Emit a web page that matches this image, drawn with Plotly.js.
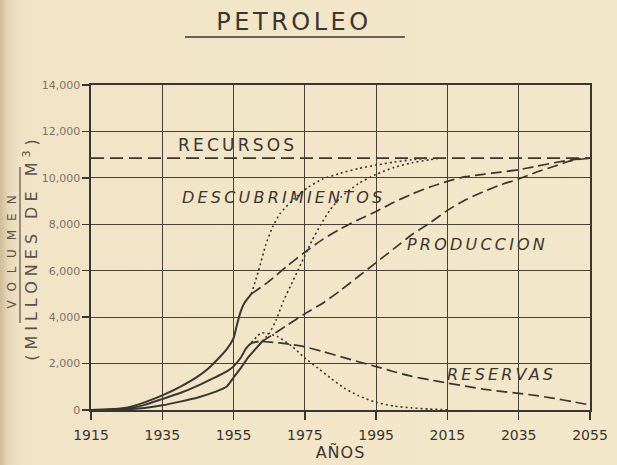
<!DOCTYPE html>
<html>
<head>
<meta charset="utf-8">
<script src="https://cdn.plot.ly/plotly-3.0.1.min.js"></script>
<style>
  html, body { margin: 0; padding: 0; }
  body { width: 617px; height: 465px; overflow: hidden;
    background: linear-gradient(to right, #cdbb98 0px, #e6d7b7 8px, #f1e4c6 22px, #f3e7ca 100%); }
  #chart { width: 617px; height: 465px; }
  .gtitle { letter-spacing: 3.5px; }
  .annotation-text { letter-spacing: 3.2px; }
  .ytitle { letter-spacing: 5px; }
  .xtitle { letter-spacing: 1px; }
</style>
</head>
<body>
<div id="chart"></div>
<script>
// ---- data ----
const xTicks = [1915, 1935, 1955, 1975, 1995, 2015, 2035, 2055];
const yTicks = [0, 2000, 4000, 6000, 8000, 10000, 12000, 14000];
const yTickText = ['0', '2,000', '4,000', '6,000', '8,000', '10,000', '12,000', '14,000'];

const recursosYears = [1915, 2055];
const recursosValues = [10850, 10850];

// historical (solid)
const descHistYears = [1915, 1920, 1925, 1930, 1935, 1940, 1945, 1948, 1950, 1953, 1955, 1956, 1957, 1958, 1960];
const descHistValues = [0, 30, 100, 330, 630, 1000, 1450, 1800, 2100, 2600, 3100, 3700, 4250, 4600, 5000];
const resHistYears = [1915, 1920, 1925, 1930, 1935, 1940, 1945, 1950, 1953, 1955, 1957, 1958.5, 1960, 1962];
const resHistValues = [0, 15, 50, 220, 470, 730, 1050, 1420, 1650, 1880, 2250, 2650, 2880, 2950];
const prodHistYears = [1915, 1920, 1925, 1930, 1935, 1940, 1945, 1950, 1953, 1955, 1957, 1959, 1961, 1963];
const prodHistValues = [0, 10, 30, 90, 200, 360, 540, 790, 1000, 1400, 1800, 2250, 2600, 2950];

// slow projection (dashed)
const descSlowYears = [1960, 1965, 1970, 1975, 1980, 1985, 1990, 1995, 2000, 2005, 2010, 2015, 2020, 2025, 2030, 2035, 2040, 2045, 2050, 2055];
const descSlowValues = [5000, 5550, 6200, 6800, 7350, 7800, 8200, 8550, 8950, 9300, 9600, 9850, 10050, 10150, 10250, 10350, 10500, 10650, 10780, 10850];
const prodSlowYears = [1963, 1965, 1970, 1975, 1980, 1985, 1990, 1995, 2000, 2005, 2010, 2015, 2020, 2025, 2030, 2035, 2040, 2045, 2050, 2055];
const prodSlowValues = [2950, 3150, 3650, 4150, 4600, 5150, 5750, 6350, 6950, 7550, 8050, 8600, 9050, 9400, 9700, 9950, 10250, 10500, 10750, 10850];
const resSlowYears = [1963, 1969, 1975, 1980, 1985, 1990, 1995, 2000, 2005, 2010, 2015, 2020, 2025, 2030, 2035, 2040, 2045, 2050, 2055];
const resSlowValues = [2950, 2870, 2720, 2520, 2300, 2080, 1870, 1650, 1450, 1300, 1160, 1030, 900, 800, 720, 620, 500, 360, 220];

// fast projection (dotted)
const descFastYears = [1960, 1962, 1964, 1966, 1968, 1972, 1976, 1980, 1985, 1990, 1995, 2000, 2005, 2010];
const descFastValues = [5000, 6000, 7100, 7900, 8450, 9100, 9600, 9950, 10200, 10400, 10550, 10680, 10780, 10850];
const prodFastYears = [1963, 1965, 1967, 1969, 1971, 1973, 1975, 1977, 1979.5, 1982, 1985, 1990, 1995, 2000, 2005, 2010, 2013];
const prodFastValues = [2950, 3300, 3900, 4700, 5350, 6000, 6650, 7300, 8000, 8600, 9150, 9750, 10150, 10450, 10650, 10780, 10850];
const resFastYears = [1960, 1962.8, 1965, 1967.4, 1971.5, 1975, 1978.6, 1982, 1986, 1990, 1995, 2000, 2005, 2010, 2015];
const resFastValues = [2900, 3320, 3280, 3160, 2730, 2240, 1810, 1400, 950, 620, 330, 170, 90, 40, 10];

const labels = ['RECURSOS', 'DESCUBRIMIENTOS', 'PRODUCCION', 'RESERVAS'];

// ---- styling ----
const ink = '#3a3530';
const font = 'DejaVu Sans, sans-serif';

function tr(x, y, dash, width, name) {
  return { x: x, y: y, type: 'scatter', mode: 'lines', name: name,
    line: { color: ink, width: width, dash: dash, shape: 'spline', smoothing: 0.6 },
    hoverinfo: 'skip' };
}

const traces = [
  tr(recursosYears, recursosValues, '13px,6px', 1.6, 'Recursos'),
  tr(descHistYears, descHistValues, 'solid', 2, 'Descubrimientos'),
  tr(resHistYears, resHistValues, 'solid', 2, 'Reservas'),
  tr(prodHistYears, prodHistValues, 'solid', 2, 'Producción'),
  tr(descSlowYears, descSlowValues, '11px,5px', 1.7, 'Descubrimientos (lento)'),
  tr(prodSlowYears, prodSlowValues, '11px,5px', 1.7, 'Producción (lento)'),
  tr(resSlowYears, resSlowValues, '11px,5px', 1.7, 'Reservas (lento)'),
  tr(descFastYears, descFastValues, '2px,3px', 1.6, 'Descubrimientos (rápido)'),
  tr(prodFastYears, prodFastValues, '2px,3px', 1.6, 'Producción (rápido)'),
  tr(resFastYears, resFastValues, '2px,3px', 1.6, 'Reservas (rápido)')
];

const layout = {
  width: 617, height: 465,
  margin: { l: 91, r: 27, t: 85, b: 55, pad: 0 },
  paper_bgcolor: 'rgba(0,0,0,0)',
  plot_bgcolor: 'rgba(0,0,0,0)',
  showlegend: false,
  title: { text: 'PETROLEO', xref: 'container', x: 294 / 617, xanchor: 'center',
    yref: 'container', y: 1 - 22 / 465, yanchor: 'middle',
    font: { family: font, size: 24, color: ink } },
  xaxis: {
    range: [1915, 2055], tickvals: xTicks, ticktext: xTicks.map(String),
    ticks: 'outside', ticklen: 8, tickwidth: 1.3, tickcolor: ink, ticklabelstandoff: 4,
    showgrid: true, gridcolor: '#48423b', gridwidth: 1.2,
    showline: true, linecolor: ink, linewidth: 1.6, mirror: true, zeroline: false,
    tickfont: { family: font, size: 14, color: ink },
    title: { text: 'AÑOS', font: { family: font, size: 16, color: ink }, standoff: 0 }
  },
  yaxis: {
    range: [0, 14000], tickvals: yTicks, ticktext: yTickText,
    ticks: 'outside', ticklen: 7, tickwidth: 1.3, tickcolor: ink,
    showgrid: true, gridcolor: '#48423b', gridwidth: 1.2,
    showline: true, linecolor: ink, linewidth: 1.6, mirror: true, zeroline: false,
    tickfont: { family: font, size: 11, color: '#7d7366' },
    title: { text: '<span style="font-size:12px;letter-spacing:9px">VOLUMEN</span><br>(MILLONES DE M<sup>3</sup>)',
      font: { family: font, size: 16, color: '#5a5249' }, standoff: 0 }
  },
  shapes: [
    { type: 'line', xref: 'paper', yref: 'paper', x0: 0.1884, x1: 0.629, y0: 1.1477, y1: 1.1477,
      line: { color: ink, width: 1.6 } },
    { type: 'line', xref: 'paper', yref: 'paper', x0: -0.1423, x1: -0.1423, y0: 0.268, y1: 0.748,
      line: { color: '#5a5249', width: 1.2 } }
  ],
  annotations: [
    { x: 1956.2, y: 11415, text: labels[0], showarrow: false,
      font: { family: font, size: 17, color: ink } },
    { x: 1969.1, y: 9175, text: labels[1], showarrow: false,
      font: { family: font, size: 16, color: ink, style: 'italic' } },
    { x: 2023.3, y: 7108, text: labels[2], showarrow: false,
      font: { family: font, size: 16, color: ink, style: 'italic' } },
    { x: 2030.3, y: 1508, text: labels[3], showarrow: false,
      font: { family: font, size: 16, color: ink, style: 'italic' } }
  ]
};

Plotly.newPlot('chart', traces, layout, { staticPlot: true, displayModeBar: false });
</script>
</body>
</html>
